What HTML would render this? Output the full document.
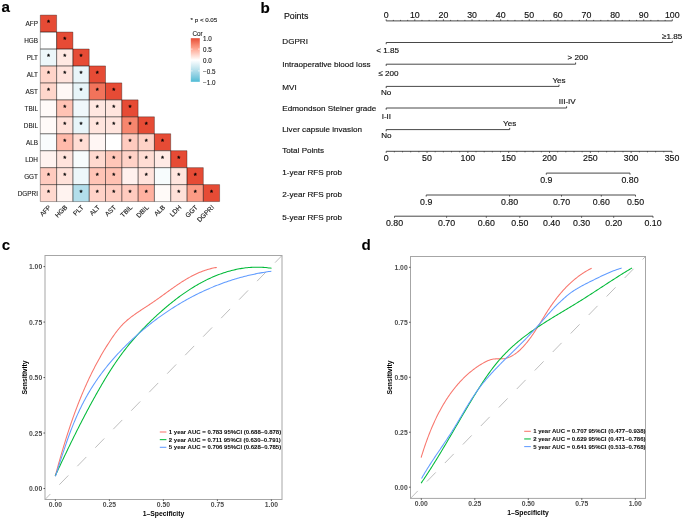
<!DOCTYPE html>
<html><head><meta charset="utf-8"><style>
html,body{margin:0;padding:0;background:#fff;}
body{width:685px;height:518px;overflow:hidden;}
svg{display:block;font-family:"Liberation Sans", sans-serif;will-change:transform;}
</style></head><body>
<svg width="685" height="518" viewBox="0 0 685 518">
<rect width="685" height="518" fill="#fff"/>
<text x="1.60" y="11.80" font-size="15.20" text-anchor="start" font-weight="bold" fill="#000" stroke="#000" stroke-width="0.12">a</text>
<rect x="40.30" y="15.10" width="16.30" height="16.95" fill="#e64b35"/>
<rect x="40.30" y="32.05" width="16.30" height="16.95" fill="#ffffff"/>
<rect x="56.60" y="32.05" width="16.30" height="16.95" fill="#e64b35"/>
<rect x="40.30" y="49.00" width="16.30" height="16.95" fill="#edf7fa"/>
<rect x="56.60" y="49.00" width="16.30" height="16.95" fill="#ffe9e3"/>
<rect x="72.90" y="49.00" width="16.30" height="16.95" fill="#e64b35"/>
<rect x="40.30" y="65.95" width="16.30" height="16.95" fill="#ffd4c9"/>
<rect x="56.60" y="65.95" width="16.30" height="16.95" fill="#ffe3dc"/>
<rect x="72.90" y="65.95" width="16.30" height="16.95" fill="#e9f5f9"/>
<rect x="89.20" y="65.95" width="16.30" height="16.95" fill="#e64b35"/>
<rect x="40.30" y="82.90" width="16.30" height="16.95" fill="#ffd6cb"/>
<rect x="56.60" y="82.90" width="16.30" height="16.95" fill="#fff8f6"/>
<rect x="72.90" y="82.90" width="16.30" height="16.95" fill="#e8f5f9"/>
<rect x="89.20" y="82.90" width="16.30" height="16.95" fill="#f2735b"/>
<rect x="105.50" y="82.90" width="16.30" height="16.95" fill="#e64b35"/>
<rect x="40.30" y="99.85" width="16.30" height="16.95" fill="#fffaf8"/>
<rect x="56.60" y="99.85" width="16.30" height="16.95" fill="#ffc3b4"/>
<rect x="72.90" y="99.85" width="16.30" height="16.95" fill="#f0f8fb"/>
<rect x="89.20" y="99.85" width="16.30" height="16.95" fill="#ffe7e1"/>
<rect x="105.50" y="99.85" width="16.30" height="16.95" fill="#ffe5de"/>
<rect x="121.80" y="99.85" width="16.30" height="16.95" fill="#e64b35"/>
<rect x="40.30" y="116.80" width="16.30" height="16.95" fill="#fffaf8"/>
<rect x="56.60" y="116.80" width="16.30" height="16.95" fill="#ffe2da"/>
<rect x="72.90" y="116.80" width="16.30" height="16.95" fill="#e8f5f9"/>
<rect x="89.20" y="116.80" width="16.30" height="16.95" fill="#ffe5de"/>
<rect x="105.50" y="116.80" width="16.30" height="16.95" fill="#ffe5de"/>
<rect x="121.80" y="116.80" width="16.30" height="16.95" fill="#f7866e"/>
<rect x="138.10" y="116.80" width="16.30" height="16.95" fill="#e64b35"/>
<rect x="40.30" y="133.75" width="16.30" height="16.95" fill="#f9fcfd"/>
<rect x="56.60" y="133.75" width="16.30" height="16.95" fill="#ffbaaa"/>
<rect x="72.90" y="133.75" width="16.30" height="16.95" fill="#ffddd4"/>
<rect x="89.20" y="133.75" width="16.30" height="16.95" fill="#fff6f4"/>
<rect x="105.50" y="133.75" width="16.30" height="16.95" fill="#ffffff"/>
<rect x="121.80" y="133.75" width="16.30" height="16.95" fill="#ffcbbf"/>
<rect x="138.10" y="133.75" width="16.30" height="16.95" fill="#ffd2c7"/>
<rect x="154.40" y="133.75" width="16.30" height="16.95" fill="#e64b35"/>
<rect x="40.30" y="150.70" width="16.30" height="16.95" fill="#fff3f0"/>
<rect x="56.60" y="150.70" width="16.30" height="16.95" fill="#ffe3dc"/>
<rect x="72.90" y="150.70" width="16.30" height="16.95" fill="#f7fcfd"/>
<rect x="89.20" y="150.70" width="16.30" height="16.95" fill="#ffd9cf"/>
<rect x="105.50" y="150.70" width="16.30" height="16.95" fill="#ffc6b8"/>
<rect x="121.80" y="150.70" width="16.30" height="16.95" fill="#ffd2c7"/>
<rect x="138.10" y="150.70" width="16.30" height="16.95" fill="#ffddd4"/>
<rect x="154.40" y="150.70" width="16.30" height="16.95" fill="#ffeae5"/>
<rect x="170.70" y="150.70" width="16.30" height="16.95" fill="#e64b35"/>
<rect x="40.30" y="167.65" width="16.30" height="16.95" fill="#ffcbbf"/>
<rect x="56.60" y="167.65" width="16.30" height="16.95" fill="#ffe2da"/>
<rect x="72.90" y="167.65" width="16.30" height="16.95" fill="#edf7fa"/>
<rect x="89.20" y="167.65" width="16.30" height="16.95" fill="#ffc4b6"/>
<rect x="105.50" y="167.65" width="16.30" height="16.95" fill="#ffc1b2"/>
<rect x="121.80" y="167.65" width="16.30" height="16.95" fill="#fff1ee"/>
<rect x="138.10" y="167.65" width="16.30" height="16.95" fill="#ffe3dc"/>
<rect x="154.40" y="167.65" width="16.30" height="16.95" fill="#f7fcfd"/>
<rect x="170.70" y="167.65" width="16.30" height="16.95" fill="#ffe5de"/>
<rect x="187.00" y="167.65" width="16.30" height="16.95" fill="#e64b35"/>
<rect x="40.30" y="184.60" width="16.30" height="16.95" fill="#ffd9cf"/>
<rect x="56.60" y="184.60" width="16.30" height="16.95" fill="#fff3f0"/>
<rect x="72.90" y="184.60" width="16.30" height="16.95" fill="#b3deeb"/>
<rect x="89.20" y="184.60" width="16.30" height="16.95" fill="#ffd2c7"/>
<rect x="105.50" y="184.60" width="16.30" height="16.95" fill="#ffcdc1"/>
<rect x="121.80" y="184.60" width="16.30" height="16.95" fill="#ffcbbf"/>
<rect x="138.10" y="184.60" width="16.30" height="16.95" fill="#ffb1a0"/>
<rect x="154.40" y="184.60" width="16.30" height="16.95" fill="#fffaf8"/>
<rect x="170.70" y="184.60" width="16.30" height="16.95" fill="#ffe0d8"/>
<rect x="187.00" y="184.60" width="16.30" height="16.95" fill="#fc9b85"/>
<rect x="203.30" y="184.60" width="16.30" height="16.95" fill="#e64b35"/>
<path d="M40.30,15.10h16.30v16.95h-16.30ZM40.30,32.05h16.30v16.95h-16.30ZM56.60,32.05h16.30v16.95h-16.30ZM40.30,49.00h16.30v16.95h-16.30ZM56.60,49.00h16.30v16.95h-16.30ZM72.90,49.00h16.30v16.95h-16.30ZM40.30,65.95h16.30v16.95h-16.30ZM56.60,65.95h16.30v16.95h-16.30ZM72.90,65.95h16.30v16.95h-16.30ZM89.20,65.95h16.30v16.95h-16.30ZM40.30,82.90h16.30v16.95h-16.30ZM56.60,82.90h16.30v16.95h-16.30ZM72.90,82.90h16.30v16.95h-16.30ZM89.20,82.90h16.30v16.95h-16.30ZM105.50,82.90h16.30v16.95h-16.30ZM40.30,99.85h16.30v16.95h-16.30ZM56.60,99.85h16.30v16.95h-16.30ZM72.90,99.85h16.30v16.95h-16.30ZM89.20,99.85h16.30v16.95h-16.30ZM105.50,99.85h16.30v16.95h-16.30ZM121.80,99.85h16.30v16.95h-16.30ZM40.30,116.80h16.30v16.95h-16.30ZM56.60,116.80h16.30v16.95h-16.30ZM72.90,116.80h16.30v16.95h-16.30ZM89.20,116.80h16.30v16.95h-16.30ZM105.50,116.80h16.30v16.95h-16.30ZM121.80,116.80h16.30v16.95h-16.30ZM138.10,116.80h16.30v16.95h-16.30ZM40.30,133.75h16.30v16.95h-16.30ZM56.60,133.75h16.30v16.95h-16.30ZM72.90,133.75h16.30v16.95h-16.30ZM89.20,133.75h16.30v16.95h-16.30ZM105.50,133.75h16.30v16.95h-16.30ZM121.80,133.75h16.30v16.95h-16.30ZM138.10,133.75h16.30v16.95h-16.30ZM154.40,133.75h16.30v16.95h-16.30ZM40.30,150.70h16.30v16.95h-16.30ZM56.60,150.70h16.30v16.95h-16.30ZM72.90,150.70h16.30v16.95h-16.30ZM89.20,150.70h16.30v16.95h-16.30ZM105.50,150.70h16.30v16.95h-16.30ZM121.80,150.70h16.30v16.95h-16.30ZM138.10,150.70h16.30v16.95h-16.30ZM154.40,150.70h16.30v16.95h-16.30ZM170.70,150.70h16.30v16.95h-16.30ZM40.30,167.65h16.30v16.95h-16.30ZM56.60,167.65h16.30v16.95h-16.30ZM72.90,167.65h16.30v16.95h-16.30ZM89.20,167.65h16.30v16.95h-16.30ZM105.50,167.65h16.30v16.95h-16.30ZM121.80,167.65h16.30v16.95h-16.30ZM138.10,167.65h16.30v16.95h-16.30ZM154.40,167.65h16.30v16.95h-16.30ZM170.70,167.65h16.30v16.95h-16.30ZM187.00,167.65h16.30v16.95h-16.30ZM40.30,184.60h16.30v16.95h-16.30ZM56.60,184.60h16.30v16.95h-16.30ZM72.90,184.60h16.30v16.95h-16.30ZM89.20,184.60h16.30v16.95h-16.30ZM105.50,184.60h16.30v16.95h-16.30ZM121.80,184.60h16.30v16.95h-16.30ZM138.10,184.60h16.30v16.95h-16.30ZM154.40,184.60h16.30v16.95h-16.30ZM170.70,184.60h16.30v16.95h-16.30ZM187.00,184.60h16.30v16.95h-16.30ZM203.30,184.60h16.30v16.95h-16.30Z" fill="none" stroke="#000" stroke-opacity="0.36" stroke-width="0.9"/>
<text x="48.45" y="25.27" font-size="7.80" text-anchor="middle" font-weight="normal" fill="#000" stroke="#000" stroke-width="0.30">*</text>
<text x="64.75" y="42.23" font-size="7.80" text-anchor="middle" font-weight="normal" fill="#000" stroke="#000" stroke-width="0.30">*</text>
<text x="48.45" y="59.18" font-size="7.80" text-anchor="middle" font-weight="normal" fill="#000" stroke="#000" stroke-width="0.30">*</text>
<text x="64.75" y="59.18" font-size="7.80" text-anchor="middle" font-weight="normal" fill="#000" stroke="#000" stroke-width="0.30">*</text>
<text x="81.05" y="59.18" font-size="7.80" text-anchor="middle" font-weight="normal" fill="#000" stroke="#000" stroke-width="0.30">*</text>
<text x="48.45" y="76.12" font-size="7.80" text-anchor="middle" font-weight="normal" fill="#000" stroke="#000" stroke-width="0.30">*</text>
<text x="64.75" y="76.12" font-size="7.80" text-anchor="middle" font-weight="normal" fill="#000" stroke="#000" stroke-width="0.30">*</text>
<text x="81.05" y="76.12" font-size="7.80" text-anchor="middle" font-weight="normal" fill="#000" stroke="#000" stroke-width="0.30">*</text>
<text x="97.35" y="76.12" font-size="7.80" text-anchor="middle" font-weight="normal" fill="#000" stroke="#000" stroke-width="0.30">*</text>
<text x="48.45" y="93.07" font-size="7.80" text-anchor="middle" font-weight="normal" fill="#000" stroke="#000" stroke-width="0.30">*</text>
<text x="81.05" y="93.07" font-size="7.80" text-anchor="middle" font-weight="normal" fill="#000" stroke="#000" stroke-width="0.30">*</text>
<text x="97.35" y="93.07" font-size="7.80" text-anchor="middle" font-weight="normal" fill="#000" stroke="#000" stroke-width="0.30">*</text>
<text x="113.65" y="93.07" font-size="7.80" text-anchor="middle" font-weight="normal" fill="#000" stroke="#000" stroke-width="0.30">*</text>
<text x="64.75" y="110.02" font-size="7.80" text-anchor="middle" font-weight="normal" fill="#000" stroke="#000" stroke-width="0.30">*</text>
<text x="97.35" y="110.02" font-size="7.80" text-anchor="middle" font-weight="normal" fill="#000" stroke="#000" stroke-width="0.30">*</text>
<text x="113.65" y="110.02" font-size="7.80" text-anchor="middle" font-weight="normal" fill="#000" stroke="#000" stroke-width="0.30">*</text>
<text x="129.95" y="110.02" font-size="7.80" text-anchor="middle" font-weight="normal" fill="#000" stroke="#000" stroke-width="0.30">*</text>
<text x="64.75" y="126.97" font-size="7.80" text-anchor="middle" font-weight="normal" fill="#000" stroke="#000" stroke-width="0.30">*</text>
<text x="81.05" y="126.97" font-size="7.80" text-anchor="middle" font-weight="normal" fill="#000" stroke="#000" stroke-width="0.30">*</text>
<text x="97.35" y="126.97" font-size="7.80" text-anchor="middle" font-weight="normal" fill="#000" stroke="#000" stroke-width="0.30">*</text>
<text x="113.65" y="126.97" font-size="7.80" text-anchor="middle" font-weight="normal" fill="#000" stroke="#000" stroke-width="0.30">*</text>
<text x="129.95" y="126.97" font-size="7.80" text-anchor="middle" font-weight="normal" fill="#000" stroke="#000" stroke-width="0.30">*</text>
<text x="146.25" y="126.97" font-size="7.80" text-anchor="middle" font-weight="normal" fill="#000" stroke="#000" stroke-width="0.30">*</text>
<text x="64.75" y="143.92" font-size="7.80" text-anchor="middle" font-weight="normal" fill="#000" stroke="#000" stroke-width="0.30">*</text>
<text x="81.05" y="143.92" font-size="7.80" text-anchor="middle" font-weight="normal" fill="#000" stroke="#000" stroke-width="0.30">*</text>
<text x="129.95" y="143.92" font-size="7.80" text-anchor="middle" font-weight="normal" fill="#000" stroke="#000" stroke-width="0.30">*</text>
<text x="146.25" y="143.92" font-size="7.80" text-anchor="middle" font-weight="normal" fill="#000" stroke="#000" stroke-width="0.30">*</text>
<text x="162.55" y="143.92" font-size="7.80" text-anchor="middle" font-weight="normal" fill="#000" stroke="#000" stroke-width="0.30">*</text>
<text x="64.75" y="160.87" font-size="7.80" text-anchor="middle" font-weight="normal" fill="#000" stroke="#000" stroke-width="0.30">*</text>
<text x="97.35" y="160.87" font-size="7.80" text-anchor="middle" font-weight="normal" fill="#000" stroke="#000" stroke-width="0.30">*</text>
<text x="113.65" y="160.87" font-size="7.80" text-anchor="middle" font-weight="normal" fill="#000" stroke="#000" stroke-width="0.30">*</text>
<text x="129.95" y="160.87" font-size="7.80" text-anchor="middle" font-weight="normal" fill="#000" stroke="#000" stroke-width="0.30">*</text>
<text x="146.25" y="160.87" font-size="7.80" text-anchor="middle" font-weight="normal" fill="#000" stroke="#000" stroke-width="0.30">*</text>
<text x="162.55" y="160.87" font-size="7.80" text-anchor="middle" font-weight="normal" fill="#000" stroke="#000" stroke-width="0.30">*</text>
<text x="178.85" y="160.87" font-size="7.80" text-anchor="middle" font-weight="normal" fill="#000" stroke="#000" stroke-width="0.30">*</text>
<text x="48.45" y="177.82" font-size="7.80" text-anchor="middle" font-weight="normal" fill="#000" stroke="#000" stroke-width="0.30">*</text>
<text x="64.75" y="177.82" font-size="7.80" text-anchor="middle" font-weight="normal" fill="#000" stroke="#000" stroke-width="0.30">*</text>
<text x="97.35" y="177.82" font-size="7.80" text-anchor="middle" font-weight="normal" fill="#000" stroke="#000" stroke-width="0.30">*</text>
<text x="113.65" y="177.82" font-size="7.80" text-anchor="middle" font-weight="normal" fill="#000" stroke="#000" stroke-width="0.30">*</text>
<text x="146.25" y="177.82" font-size="7.80" text-anchor="middle" font-weight="normal" fill="#000" stroke="#000" stroke-width="0.30">*</text>
<text x="178.85" y="177.82" font-size="7.80" text-anchor="middle" font-weight="normal" fill="#000" stroke="#000" stroke-width="0.30">*</text>
<text x="195.15" y="177.82" font-size="7.80" text-anchor="middle" font-weight="normal" fill="#000" stroke="#000" stroke-width="0.30">*</text>
<text x="48.45" y="194.77" font-size="7.80" text-anchor="middle" font-weight="normal" fill="#000" stroke="#000" stroke-width="0.30">*</text>
<text x="81.05" y="194.77" font-size="7.80" text-anchor="middle" font-weight="normal" fill="#000" stroke="#000" stroke-width="0.30">*</text>
<text x="97.35" y="194.77" font-size="7.80" text-anchor="middle" font-weight="normal" fill="#000" stroke="#000" stroke-width="0.30">*</text>
<text x="113.65" y="194.77" font-size="7.80" text-anchor="middle" font-weight="normal" fill="#000" stroke="#000" stroke-width="0.30">*</text>
<text x="129.95" y="194.77" font-size="7.80" text-anchor="middle" font-weight="normal" fill="#000" stroke="#000" stroke-width="0.30">*</text>
<text x="146.25" y="194.77" font-size="7.80" text-anchor="middle" font-weight="normal" fill="#000" stroke="#000" stroke-width="0.30">*</text>
<text x="178.85" y="194.77" font-size="7.80" text-anchor="middle" font-weight="normal" fill="#000" stroke="#000" stroke-width="0.30">*</text>
<text x="195.15" y="194.77" font-size="7.80" text-anchor="middle" font-weight="normal" fill="#000" stroke="#000" stroke-width="0.30">*</text>
<text x="211.45" y="194.77" font-size="7.80" text-anchor="middle" font-weight="normal" fill="#000" stroke="#000" stroke-width="0.30">*</text>
<text x="38.00" y="26.27" font-size="6.40" text-anchor="end" font-weight="normal" fill="#222" stroke="#222" stroke-width="0.12">AFP</text>
<text x="38.00" y="43.23" font-size="6.40" text-anchor="end" font-weight="normal" fill="#222" stroke="#222" stroke-width="0.12">HGB</text>
<text x="38.00" y="60.18" font-size="6.40" text-anchor="end" font-weight="normal" fill="#222" stroke="#222" stroke-width="0.12">PLT</text>
<text x="38.00" y="77.12" font-size="6.40" text-anchor="end" font-weight="normal" fill="#222" stroke="#222" stroke-width="0.12">ALT</text>
<text x="38.00" y="94.07" font-size="6.40" text-anchor="end" font-weight="normal" fill="#222" stroke="#222" stroke-width="0.12">AST</text>
<text x="38.00" y="111.02" font-size="6.40" text-anchor="end" font-weight="normal" fill="#222" stroke="#222" stroke-width="0.12">TBIL</text>
<text x="38.00" y="127.97" font-size="6.40" text-anchor="end" font-weight="normal" fill="#222" stroke="#222" stroke-width="0.12">DBIL</text>
<text x="38.00" y="144.92" font-size="6.40" text-anchor="end" font-weight="normal" fill="#222" stroke="#222" stroke-width="0.12">ALB</text>
<text x="38.00" y="161.87" font-size="6.40" text-anchor="end" font-weight="normal" fill="#222" stroke="#222" stroke-width="0.12">LDH</text>
<text x="38.00" y="178.82" font-size="6.40" text-anchor="end" font-weight="normal" fill="#222" stroke="#222" stroke-width="0.12">GGT</text>
<text x="38.00" y="195.77" font-size="6.40" text-anchor="end" font-weight="normal" fill="#222" stroke="#222" stroke-width="0.12">DGPRI</text>
<text transform="translate(51.45,207.80) rotate(-45)" font-size="6.6" text-anchor="end" fill="#222" stroke="#222" stroke-width="0.12">AFP</text>
<text transform="translate(67.75,207.80) rotate(-45)" font-size="6.6" text-anchor="end" fill="#222" stroke="#222" stroke-width="0.12">HGB</text>
<text transform="translate(84.05,207.80) rotate(-45)" font-size="6.6" text-anchor="end" fill="#222" stroke="#222" stroke-width="0.12">PLT</text>
<text transform="translate(100.35,207.80) rotate(-45)" font-size="6.6" text-anchor="end" fill="#222" stroke="#222" stroke-width="0.12">ALT</text>
<text transform="translate(116.65,207.80) rotate(-45)" font-size="6.6" text-anchor="end" fill="#222" stroke="#222" stroke-width="0.12">AST</text>
<text transform="translate(132.95,207.80) rotate(-45)" font-size="6.6" text-anchor="end" fill="#222" stroke="#222" stroke-width="0.12">TBIL</text>
<text transform="translate(149.25,207.80) rotate(-45)" font-size="6.6" text-anchor="end" fill="#222" stroke="#222" stroke-width="0.12">DBIL</text>
<text transform="translate(165.55,207.80) rotate(-45)" font-size="6.6" text-anchor="end" fill="#222" stroke="#222" stroke-width="0.12">ALB</text>
<text transform="translate(181.85,207.80) rotate(-45)" font-size="6.6" text-anchor="end" fill="#222" stroke="#222" stroke-width="0.12">LDH</text>
<text transform="translate(198.15,207.80) rotate(-45)" font-size="6.6" text-anchor="end" fill="#222" stroke="#222" stroke-width="0.12">GGT</text>
<text transform="translate(214.45,207.80) rotate(-45)" font-size="6.6" text-anchor="end" fill="#222" stroke="#222" stroke-width="0.12">DGPRI</text>
<text x="190.60" y="22.20" font-size="6.20" text-anchor="start" font-weight="normal" fill="#222" stroke="#222" stroke-width="0.12">* p &lt; 0.05</text>
<text x="192.40" y="35.80" font-size="6.30" text-anchor="start" font-weight="normal" fill="#222" stroke="#222" stroke-width="0.12">Cor</text>
<defs><linearGradient id="cb" x1="0" y1="0" x2="0" y2="1">
<stop offset="0.000" stop-color="#e64b35"/>
<stop offset="0.050" stop-color="#ec6048"/>
<stop offset="0.100" stop-color="#f2735b"/>
<stop offset="0.150" stop-color="#f7866e"/>
<stop offset="0.200" stop-color="#fb9781"/>
<stop offset="0.250" stop-color="#ffa995"/>
<stop offset="0.300" stop-color="#ffbaaa"/>
<stop offset="0.350" stop-color="#ffcbbf"/>
<stop offset="0.400" stop-color="#ffddd4"/>
<stop offset="0.450" stop-color="#ffeee9"/>
<stop offset="0.500" stop-color="#ffffff"/>
<stop offset="0.550" stop-color="#f0f8fb"/>
<stop offset="0.600" stop-color="#e0f1f7"/>
<stop offset="0.650" stop-color="#d0ebf2"/>
<stop offset="0.700" stop-color="#c0e4ee"/>
<stop offset="0.750" stop-color="#b0ddea"/>
<stop offset="0.800" stop-color="#9fd6e6"/>
<stop offset="0.850" stop-color="#8dcfe2"/>
<stop offset="0.900" stop-color="#7ac9dd"/>
<stop offset="0.950" stop-color="#65c2d9"/>
<stop offset="1.000" stop-color="#4dbbd5"/>
</linearGradient></defs>
<rect x="190.80" y="38.20" width="9.00" height="43.60" fill="url(#cb)"/>
<text x="203.00" y="41.20" font-size="6.30" text-anchor="start" font-weight="normal" fill="#222" stroke="#222" stroke-width="0.12">1.0</text>
<line x1="190.80" y1="49.10" x2="192.60" y2="49.10" stroke="#fff" stroke-width="0.6"/>
<line x1="198.00" y1="49.10" x2="199.80" y2="49.10" stroke="#fff" stroke-width="0.6"/>
<text x="203.00" y="52.10" font-size="6.30" text-anchor="start" font-weight="normal" fill="#222" stroke="#222" stroke-width="0.12">0.5</text>
<line x1="190.80" y1="60.00" x2="192.60" y2="60.00" stroke="#fff" stroke-width="0.6"/>
<line x1="198.00" y1="60.00" x2="199.80" y2="60.00" stroke="#fff" stroke-width="0.6"/>
<text x="203.00" y="63.00" font-size="6.30" text-anchor="start" font-weight="normal" fill="#222" stroke="#222" stroke-width="0.12">0.0</text>
<line x1="190.80" y1="70.90" x2="192.60" y2="70.90" stroke="#fff" stroke-width="0.6"/>
<line x1="198.00" y1="70.90" x2="199.80" y2="70.90" stroke="#fff" stroke-width="0.6"/>
<text x="203.00" y="73.90" font-size="6.30" text-anchor="start" font-weight="normal" fill="#222" stroke="#222" stroke-width="0.12">−0.5</text>
<text x="203.00" y="84.80" font-size="6.30" text-anchor="start" font-weight="normal" fill="#222" stroke="#222" stroke-width="0.12">−1.0</text>
<text x="260.40" y="12.70" font-size="15.20" text-anchor="start" font-weight="bold" fill="#000" stroke="#000" stroke-width="0.15">b</text>
<text x="283.90" y="18.80" font-size="8.80" text-anchor="start" font-weight="normal" fill="#111" stroke="#111" stroke-width="0.15">Points</text>
<line x1="386.20" y1="20.90" x2="672.30" y2="20.90" stroke="#333" stroke-width="0.9"/>
<line x1="386.20" y1="20.90" x2="386.20" y2="19.30" stroke="#333" stroke-width="0.8"/>
<text x="386.20" y="18.00" font-size="8.80" text-anchor="middle" font-weight="normal" fill="#111" stroke="#111" stroke-width="0.15">0</text>
<line x1="393.35" y1="20.90" x2="393.35" y2="19.90" stroke="#333" stroke-width="0.8"/>
<line x1="400.50" y1="20.90" x2="400.50" y2="19.90" stroke="#333" stroke-width="0.8"/>
<line x1="407.66" y1="20.90" x2="407.66" y2="19.90" stroke="#333" stroke-width="0.8"/>
<line x1="414.81" y1="20.90" x2="414.81" y2="19.30" stroke="#333" stroke-width="0.8"/>
<text x="414.81" y="18.00" font-size="8.80" text-anchor="middle" font-weight="normal" fill="#111" stroke="#111" stroke-width="0.15">10</text>
<line x1="421.96" y1="20.90" x2="421.96" y2="19.90" stroke="#333" stroke-width="0.8"/>
<line x1="429.12" y1="20.90" x2="429.12" y2="19.90" stroke="#333" stroke-width="0.8"/>
<line x1="436.27" y1="20.90" x2="436.27" y2="19.90" stroke="#333" stroke-width="0.8"/>
<line x1="443.42" y1="20.90" x2="443.42" y2="19.30" stroke="#333" stroke-width="0.8"/>
<text x="443.42" y="18.00" font-size="8.80" text-anchor="middle" font-weight="normal" fill="#111" stroke="#111" stroke-width="0.15">20</text>
<line x1="450.57" y1="20.90" x2="450.57" y2="19.90" stroke="#333" stroke-width="0.8"/>
<line x1="457.73" y1="20.90" x2="457.73" y2="19.90" stroke="#333" stroke-width="0.8"/>
<line x1="464.88" y1="20.90" x2="464.88" y2="19.90" stroke="#333" stroke-width="0.8"/>
<line x1="472.03" y1="20.90" x2="472.03" y2="19.30" stroke="#333" stroke-width="0.8"/>
<text x="472.03" y="18.00" font-size="8.80" text-anchor="middle" font-weight="normal" fill="#111" stroke="#111" stroke-width="0.15">30</text>
<line x1="479.18" y1="20.90" x2="479.18" y2="19.90" stroke="#333" stroke-width="0.8"/>
<line x1="486.33" y1="20.90" x2="486.33" y2="19.90" stroke="#333" stroke-width="0.8"/>
<line x1="493.49" y1="20.90" x2="493.49" y2="19.90" stroke="#333" stroke-width="0.8"/>
<line x1="500.64" y1="20.90" x2="500.64" y2="19.30" stroke="#333" stroke-width="0.8"/>
<text x="500.64" y="18.00" font-size="8.80" text-anchor="middle" font-weight="normal" fill="#111" stroke="#111" stroke-width="0.15">40</text>
<line x1="507.79" y1="20.90" x2="507.79" y2="19.90" stroke="#333" stroke-width="0.8"/>
<line x1="514.94" y1="20.90" x2="514.94" y2="19.90" stroke="#333" stroke-width="0.8"/>
<line x1="522.10" y1="20.90" x2="522.10" y2="19.90" stroke="#333" stroke-width="0.8"/>
<line x1="529.25" y1="20.90" x2="529.25" y2="19.30" stroke="#333" stroke-width="0.8"/>
<text x="529.25" y="18.00" font-size="8.80" text-anchor="middle" font-weight="normal" fill="#111" stroke="#111" stroke-width="0.15">50</text>
<line x1="536.40" y1="20.90" x2="536.40" y2="19.90" stroke="#333" stroke-width="0.8"/>
<line x1="543.56" y1="20.90" x2="543.56" y2="19.90" stroke="#333" stroke-width="0.8"/>
<line x1="550.71" y1="20.90" x2="550.71" y2="19.90" stroke="#333" stroke-width="0.8"/>
<line x1="557.86" y1="20.90" x2="557.86" y2="19.30" stroke="#333" stroke-width="0.8"/>
<text x="557.86" y="18.00" font-size="8.80" text-anchor="middle" font-weight="normal" fill="#111" stroke="#111" stroke-width="0.15">60</text>
<line x1="565.01" y1="20.90" x2="565.01" y2="19.90" stroke="#333" stroke-width="0.8"/>
<line x1="572.16" y1="20.90" x2="572.16" y2="19.90" stroke="#333" stroke-width="0.8"/>
<line x1="579.32" y1="20.90" x2="579.32" y2="19.90" stroke="#333" stroke-width="0.8"/>
<line x1="586.47" y1="20.90" x2="586.47" y2="19.30" stroke="#333" stroke-width="0.8"/>
<text x="586.47" y="18.00" font-size="8.80" text-anchor="middle" font-weight="normal" fill="#111" stroke="#111" stroke-width="0.15">70</text>
<line x1="593.62" y1="20.90" x2="593.62" y2="19.90" stroke="#333" stroke-width="0.8"/>
<line x1="600.77" y1="20.90" x2="600.77" y2="19.90" stroke="#333" stroke-width="0.8"/>
<line x1="607.93" y1="20.90" x2="607.93" y2="19.90" stroke="#333" stroke-width="0.8"/>
<line x1="615.08" y1="20.90" x2="615.08" y2="19.30" stroke="#333" stroke-width="0.8"/>
<text x="615.08" y="18.00" font-size="8.80" text-anchor="middle" font-weight="normal" fill="#111" stroke="#111" stroke-width="0.15">80</text>
<line x1="622.23" y1="20.90" x2="622.23" y2="19.90" stroke="#333" stroke-width="0.8"/>
<line x1="629.38" y1="20.90" x2="629.38" y2="19.90" stroke="#333" stroke-width="0.8"/>
<line x1="636.54" y1="20.90" x2="636.54" y2="19.90" stroke="#333" stroke-width="0.8"/>
<line x1="643.69" y1="20.90" x2="643.69" y2="19.30" stroke="#333" stroke-width="0.8"/>
<text x="643.69" y="18.00" font-size="8.80" text-anchor="middle" font-weight="normal" fill="#111" stroke="#111" stroke-width="0.15">90</text>
<line x1="650.84" y1="20.90" x2="650.84" y2="19.90" stroke="#333" stroke-width="0.8"/>
<line x1="658.00" y1="20.90" x2="658.00" y2="19.90" stroke="#333" stroke-width="0.8"/>
<line x1="665.15" y1="20.90" x2="665.15" y2="19.90" stroke="#333" stroke-width="0.8"/>
<line x1="672.30" y1="20.90" x2="672.30" y2="19.30" stroke="#333" stroke-width="0.8"/>
<text x="672.30" y="18.00" font-size="8.80" text-anchor="middle" font-weight="normal" fill="#111" stroke="#111" stroke-width="0.15">100</text>
<text x="282.30" y="43.70" font-size="8.10" text-anchor="start" font-weight="normal" fill="#111" stroke="#111" stroke-width="0.15">DGPRI</text>
<path d="M386.20,44.20 L386.20,42.50 L672.30,42.50 L672.30,40.80" fill="none" stroke="#333" stroke-width="0.9"/>
<text x="387.70" y="53.40" font-size="8.10" text-anchor="middle" font-weight="normal" fill="#111" stroke="#111" stroke-width="0.15">&lt; 1.85</text>
<text x="672.10" y="38.60" font-size="8.10" text-anchor="middle" font-weight="normal" fill="#111" stroke="#111" stroke-width="0.15">≥1.85</text>
<text x="282.30" y="67.00" font-size="8.10" text-anchor="start" font-weight="normal" fill="#111" stroke="#111" stroke-width="0.15">Intraoperative blood loss</text>
<path d="M386.20,65.90 L386.20,64.20 L575.60,64.20 L575.60,62.50" fill="none" stroke="#333" stroke-width="0.9"/>
<text x="388.50" y="75.80" font-size="8.10" text-anchor="middle" font-weight="normal" fill="#111" stroke="#111" stroke-width="0.15">≤ 200</text>
<text x="577.70" y="60.00" font-size="8.10" text-anchor="middle" font-weight="normal" fill="#111" stroke="#111" stroke-width="0.15">&gt; 200</text>
<text x="282.30" y="89.60" font-size="8.10" text-anchor="start" font-weight="normal" fill="#111" stroke="#111" stroke-width="0.15">MVI</text>
<path d="M386.20,88.10 L386.20,86.40 L559.00,86.40 L559.00,84.70" fill="none" stroke="#333" stroke-width="0.9"/>
<text x="386.20" y="95.40" font-size="8.10" text-anchor="middle" font-weight="normal" fill="#111" stroke="#111" stroke-width="0.15">No</text>
<text x="559.00" y="82.60" font-size="8.10" text-anchor="middle" font-weight="normal" fill="#111" stroke="#111" stroke-width="0.15">Yes</text>
<text x="282.30" y="111.00" font-size="8.10" text-anchor="start" font-weight="normal" fill="#111" stroke="#111" stroke-width="0.15">Edmondson Steiner grade</text>
<path d="M386.20,109.70 L386.20,108.00 L566.60,108.00 L566.60,106.30" fill="none" stroke="#333" stroke-width="0.9"/>
<text x="386.40" y="118.70" font-size="8.10" text-anchor="middle" font-weight="normal" fill="#111" stroke="#111" stroke-width="0.15">I-II</text>
<text x="567.20" y="104.40" font-size="8.10" text-anchor="middle" font-weight="normal" fill="#111" stroke="#111" stroke-width="0.15">III-IV</text>
<text x="282.30" y="132.20" font-size="8.10" text-anchor="start" font-weight="normal" fill="#111" stroke="#111" stroke-width="0.15">Liver capsule invasion</text>
<path d="M386.20,131.30 L386.20,129.60 L509.70,129.60 L509.70,127.90" fill="none" stroke="#333" stroke-width="0.9"/>
<text x="386.40" y="138.30" font-size="8.10" text-anchor="middle" font-weight="normal" fill="#111" stroke="#111" stroke-width="0.15">No</text>
<text x="509.70" y="126.20" font-size="8.10" text-anchor="middle" font-weight="normal" fill="#111" stroke="#111" stroke-width="0.15">Yes</text>
<text x="282.30" y="152.90" font-size="8.10" text-anchor="start" font-weight="normal" fill="#111" stroke="#111" stroke-width="0.15">Total Points</text>
<line x1="386.20" y1="151.30" x2="671.97" y2="151.30" stroke="#333" stroke-width="0.9"/>
<line x1="386.20" y1="151.30" x2="386.20" y2="152.90" stroke="#333" stroke-width="0.8"/>
<text x="386.20" y="161.30" font-size="8.80" text-anchor="middle" font-weight="normal" fill="#111" stroke="#111" stroke-width="0.15">0</text>
<line x1="394.37" y1="151.30" x2="394.37" y2="152.30" stroke="#333" stroke-width="0.8"/>
<line x1="402.53" y1="151.30" x2="402.53" y2="152.30" stroke="#333" stroke-width="0.8"/>
<line x1="410.69" y1="151.30" x2="410.69" y2="152.30" stroke="#333" stroke-width="0.8"/>
<line x1="418.86" y1="151.30" x2="418.86" y2="152.30" stroke="#333" stroke-width="0.8"/>
<line x1="427.02" y1="151.30" x2="427.02" y2="152.90" stroke="#333" stroke-width="0.8"/>
<text x="427.02" y="161.30" font-size="8.80" text-anchor="middle" font-weight="normal" fill="#111" stroke="#111" stroke-width="0.15">50</text>
<line x1="435.19" y1="151.30" x2="435.19" y2="152.30" stroke="#333" stroke-width="0.8"/>
<line x1="443.36" y1="151.30" x2="443.36" y2="152.30" stroke="#333" stroke-width="0.8"/>
<line x1="451.52" y1="151.30" x2="451.52" y2="152.30" stroke="#333" stroke-width="0.8"/>
<line x1="459.69" y1="151.30" x2="459.69" y2="152.30" stroke="#333" stroke-width="0.8"/>
<line x1="467.85" y1="151.30" x2="467.85" y2="152.90" stroke="#333" stroke-width="0.8"/>
<text x="467.85" y="161.30" font-size="8.80" text-anchor="middle" font-weight="normal" fill="#111" stroke="#111" stroke-width="0.15">100</text>
<line x1="476.01" y1="151.30" x2="476.01" y2="152.30" stroke="#333" stroke-width="0.8"/>
<line x1="484.18" y1="151.30" x2="484.18" y2="152.30" stroke="#333" stroke-width="0.8"/>
<line x1="492.34" y1="151.30" x2="492.34" y2="152.30" stroke="#333" stroke-width="0.8"/>
<line x1="500.51" y1="151.30" x2="500.51" y2="152.30" stroke="#333" stroke-width="0.8"/>
<line x1="508.67" y1="151.30" x2="508.67" y2="152.90" stroke="#333" stroke-width="0.8"/>
<text x="508.67" y="161.30" font-size="8.80" text-anchor="middle" font-weight="normal" fill="#111" stroke="#111" stroke-width="0.15">150</text>
<line x1="516.84" y1="151.30" x2="516.84" y2="152.30" stroke="#333" stroke-width="0.8"/>
<line x1="525.00" y1="151.30" x2="525.00" y2="152.30" stroke="#333" stroke-width="0.8"/>
<line x1="533.17" y1="151.30" x2="533.17" y2="152.30" stroke="#333" stroke-width="0.8"/>
<line x1="541.34" y1="151.30" x2="541.34" y2="152.30" stroke="#333" stroke-width="0.8"/>
<line x1="549.50" y1="151.30" x2="549.50" y2="152.90" stroke="#333" stroke-width="0.8"/>
<text x="549.50" y="161.30" font-size="8.80" text-anchor="middle" font-weight="normal" fill="#111" stroke="#111" stroke-width="0.15">200</text>
<line x1="557.66" y1="151.30" x2="557.66" y2="152.30" stroke="#333" stroke-width="0.8"/>
<line x1="565.83" y1="151.30" x2="565.83" y2="152.30" stroke="#333" stroke-width="0.8"/>
<line x1="574.00" y1="151.30" x2="574.00" y2="152.30" stroke="#333" stroke-width="0.8"/>
<line x1="582.16" y1="151.30" x2="582.16" y2="152.30" stroke="#333" stroke-width="0.8"/>
<line x1="590.33" y1="151.30" x2="590.33" y2="152.90" stroke="#333" stroke-width="0.8"/>
<text x="590.33" y="161.30" font-size="8.80" text-anchor="middle" font-weight="normal" fill="#111" stroke="#111" stroke-width="0.15">250</text>
<line x1="598.49" y1="151.30" x2="598.49" y2="152.30" stroke="#333" stroke-width="0.8"/>
<line x1="606.65" y1="151.30" x2="606.65" y2="152.30" stroke="#333" stroke-width="0.8"/>
<line x1="614.82" y1="151.30" x2="614.82" y2="152.30" stroke="#333" stroke-width="0.8"/>
<line x1="622.99" y1="151.30" x2="622.99" y2="152.30" stroke="#333" stroke-width="0.8"/>
<line x1="631.15" y1="151.30" x2="631.15" y2="152.90" stroke="#333" stroke-width="0.8"/>
<text x="631.15" y="161.30" font-size="8.80" text-anchor="middle" font-weight="normal" fill="#111" stroke="#111" stroke-width="0.15">300</text>
<line x1="639.32" y1="151.30" x2="639.32" y2="152.30" stroke="#333" stroke-width="0.8"/>
<line x1="647.48" y1="151.30" x2="647.48" y2="152.30" stroke="#333" stroke-width="0.8"/>
<line x1="655.64" y1="151.30" x2="655.64" y2="152.30" stroke="#333" stroke-width="0.8"/>
<line x1="663.81" y1="151.30" x2="663.81" y2="152.30" stroke="#333" stroke-width="0.8"/>
<line x1="671.97" y1="151.30" x2="671.97" y2="152.90" stroke="#333" stroke-width="0.8"/>
<text x="671.97" y="161.30" font-size="8.80" text-anchor="middle" font-weight="normal" fill="#111" stroke="#111" stroke-width="0.15">350</text>
<text x="282.30" y="174.80" font-size="8.10" text-anchor="start" font-weight="normal" fill="#111" stroke="#111" stroke-width="0.15">1-year RFS prob</text>
<line x1="546.30" y1="173.10" x2="630.00" y2="173.10" stroke="#333" stroke-width="0.9"/>
<line x1="546.30" y1="173.10" x2="546.30" y2="174.70" stroke="#333" stroke-width="0.8"/>
<text x="546.30" y="182.60" font-size="8.80" text-anchor="middle" font-weight="normal" fill="#111" stroke="#111" stroke-width="0.15">0.9</text>
<line x1="630.00" y1="173.10" x2="630.00" y2="174.70" stroke="#333" stroke-width="0.8"/>
<text x="630.00" y="182.60" font-size="8.80" text-anchor="middle" font-weight="normal" fill="#111" stroke="#111" stroke-width="0.15">0.80</text>
<text x="282.30" y="197.30" font-size="8.10" text-anchor="start" font-weight="normal" fill="#111" stroke="#111" stroke-width="0.15">2-year RFS prob</text>
<line x1="426.20" y1="195.00" x2="635.50" y2="195.00" stroke="#333" stroke-width="0.9"/>
<line x1="426.20" y1="195.00" x2="426.20" y2="196.60" stroke="#333" stroke-width="0.8"/>
<text x="426.20" y="204.50" font-size="8.80" text-anchor="middle" font-weight="normal" fill="#111" stroke="#111" stroke-width="0.15">0.9</text>
<line x1="509.60" y1="195.00" x2="509.60" y2="196.60" stroke="#333" stroke-width="0.8"/>
<text x="509.60" y="204.50" font-size="8.80" text-anchor="middle" font-weight="normal" fill="#111" stroke="#111" stroke-width="0.15">0.80</text>
<line x1="561.50" y1="195.00" x2="561.50" y2="196.60" stroke="#333" stroke-width="0.8"/>
<text x="561.50" y="204.50" font-size="8.80" text-anchor="middle" font-weight="normal" fill="#111" stroke="#111" stroke-width="0.15">0.70</text>
<line x1="601.30" y1="195.00" x2="601.30" y2="196.60" stroke="#333" stroke-width="0.8"/>
<text x="601.30" y="204.50" font-size="8.80" text-anchor="middle" font-weight="normal" fill="#111" stroke="#111" stroke-width="0.15">0.60</text>
<line x1="635.50" y1="195.00" x2="635.50" y2="196.60" stroke="#333" stroke-width="0.8"/>
<text x="635.50" y="204.50" font-size="8.80" text-anchor="middle" font-weight="normal" fill="#111" stroke="#111" stroke-width="0.15">0.50</text>
<text x="282.30" y="219.50" font-size="8.10" text-anchor="start" font-weight="normal" fill="#111" stroke="#111" stroke-width="0.15">5-year RFS prob</text>
<line x1="394.50" y1="216.20" x2="653.00" y2="216.20" stroke="#333" stroke-width="0.9"/>
<line x1="394.50" y1="216.20" x2="394.50" y2="217.80" stroke="#333" stroke-width="0.8"/>
<text x="394.50" y="225.70" font-size="8.80" text-anchor="middle" font-weight="normal" fill="#111" stroke="#111" stroke-width="0.15">0.80</text>
<line x1="446.60" y1="216.20" x2="446.60" y2="217.80" stroke="#333" stroke-width="0.8"/>
<text x="446.60" y="225.70" font-size="8.80" text-anchor="middle" font-weight="normal" fill="#111" stroke="#111" stroke-width="0.15">0.70</text>
<line x1="486.30" y1="216.20" x2="486.30" y2="217.80" stroke="#333" stroke-width="0.8"/>
<text x="486.30" y="225.70" font-size="8.80" text-anchor="middle" font-weight="normal" fill="#111" stroke="#111" stroke-width="0.15">0.60</text>
<line x1="519.80" y1="216.20" x2="519.80" y2="217.80" stroke="#333" stroke-width="0.8"/>
<text x="519.80" y="225.70" font-size="8.80" text-anchor="middle" font-weight="normal" fill="#111" stroke="#111" stroke-width="0.15">0.50</text>
<line x1="551.60" y1="216.20" x2="551.60" y2="217.80" stroke="#333" stroke-width="0.8"/>
<text x="551.60" y="225.70" font-size="8.80" text-anchor="middle" font-weight="normal" fill="#111" stroke="#111" stroke-width="0.15">0.40</text>
<line x1="581.60" y1="216.20" x2="581.60" y2="217.80" stroke="#333" stroke-width="0.8"/>
<text x="581.60" y="225.70" font-size="8.80" text-anchor="middle" font-weight="normal" fill="#111" stroke="#111" stroke-width="0.15">0.30</text>
<line x1="613.70" y1="216.20" x2="613.70" y2="217.80" stroke="#333" stroke-width="0.8"/>
<text x="613.70" y="225.70" font-size="8.80" text-anchor="middle" font-weight="normal" fill="#111" stroke="#111" stroke-width="0.15">0.20</text>
<line x1="653.00" y1="216.20" x2="653.00" y2="217.80" stroke="#333" stroke-width="0.8"/>
<text x="653.00" y="225.70" font-size="8.80" text-anchor="middle" font-weight="normal" fill="#111" stroke="#111" stroke-width="0.15">0.10</text>
<text x="1.80" y="249.80" font-size="15.20" text-anchor="start" font-weight="bold" fill="#000">c</text>
<defs><clipPath id="clip_c"><rect x="45.00" y="255.50" width="237.00" height="244.00"/></clipPath></defs>
<g clip-path="url(#clip_c)"><line x1="45.00" y1="499.50" x2="282.00" y2="255.50" stroke="#bebebe" stroke-width="1.0" stroke-dasharray="12.9 12.9" stroke-dashoffset="5.20"/></g>
<path d="M55.24,476.15 L55.53,475.04 L55.83,473.92 L56.13,472.80 L56.44,471.69 L56.74,470.57 L57.04,469.46 L57.35,468.34 L57.66,467.22 L57.97,466.11 L58.27,464.99 L58.59,463.87 L58.90,462.76 L59.21,461.64 L59.53,460.52 L59.84,459.40 L60.16,458.29 L60.48,457.17 L60.80,456.05 L61.12,454.94 L61.45,453.82 L61.77,452.70 L62.10,451.59 L62.43,450.47 L62.76,449.35 L63.10,448.24 L63.43,447.12 L63.77,446.01 L64.10,444.89 L64.44,443.78 L64.79,442.66 L65.13,441.55 L65.47,440.43 L65.82,439.32 L66.17,438.21 L66.52,437.09 L66.88,435.98 L67.23,434.87 L67.59,433.76 L67.95,432.65 L68.31,431.54 L68.67,430.43 L69.04,429.32 L69.41,428.21 L69.78,427.11 L70.15,426.00 L70.52,424.89 L70.90,423.79 L71.28,422.69 L71.66,421.58 L72.05,420.48 L72.43,419.38 L72.82,418.28 L73.21,417.18 L73.61,416.08 L74.00,414.98 L74.40,413.88 L74.80,412.78 L75.21,411.69 L75.61,410.59 L76.02,409.50 L76.44,408.41 L76.85,407.31 L77.27,406.22 L77.69,405.13 L78.11,404.05 L78.54,402.96 L78.96,401.87 L79.40,400.79 L79.83,399.71 L80.27,398.62 L80.71,397.54 L81.15,396.46 L81.60,395.38 L82.04,394.31 L82.50,393.23 L82.95,392.16 L83.41,391.09 L83.87,390.01 L84.33,388.94 L84.80,387.88 L85.27,386.81 L85.75,385.74 L86.22,384.68 L86.70,383.62 L87.19,382.56 L87.67,381.50 L88.16,380.44 L88.66,379.38 L89.15,378.33 L89.65,377.28 L90.16,376.23 L90.67,375.18 L91.18,374.13 L91.69,373.09 L92.21,372.04 L92.73,371.00 L93.25,369.96 L93.78,368.92 L94.32,367.89 L94.85,366.85 L95.39,365.82 L95.93,364.79 L96.48,363.76 L97.03,362.74 L97.59,361.71 L98.15,360.69 L98.71,359.67 L99.27,358.65 L99.84,357.64 L100.42,356.62 L101.00,355.61 L101.58,354.60 L102.16,353.60 L102.75,352.59 L103.35,351.59 L103.95,350.59 L104.55,349.59 L105.16,348.60 L105.77,347.60 L106.38,346.61 L107.00,345.63 L107.62,344.64 L108.25,343.66 L108.88,342.68 L109.52,341.70 L110.16,340.72 L110.80,339.75 L111.45,338.78 L112.11,337.81 L112.77,336.85 L113.43,335.89 L114.11,334.94 L114.79,333.99 L115.48,333.05 L116.17,332.12 L116.88,331.20 L117.59,330.28 L118.32,329.38 L119.05,328.48 L119.80,327.60 L120.56,326.73 L121.33,325.87 L122.11,325.03 L122.91,324.19 L123.72,323.38 L124.54,322.58 L125.38,321.79 L126.24,321.02 L127.10,320.27 L127.99,319.52 L128.88,318.80 L129.78,318.08 L130.69,317.37 L131.61,316.68 L132.54,315.99 L133.48,315.31 L134.42,314.63 L135.37,313.97 L136.32,313.30 L137.27,312.65 L138.23,311.99 L139.20,311.34 L140.16,310.70 L141.13,310.05 L142.10,309.41 L143.07,308.77 L144.05,308.13 L145.02,307.50 L146.00,306.86 L146.97,306.22 L147.95,305.58 L148.92,304.94 L149.90,304.29 L150.87,303.65 L151.84,303.00 L152.81,302.34 L153.78,301.68 L154.74,301.02 L155.70,300.35 L156.66,299.68 L157.61,299.01 L158.57,298.33 L159.52,297.65 L160.47,296.97 L161.42,296.29 L162.36,295.60 L163.31,294.91 L164.26,294.23 L165.20,293.54 L166.15,292.85 L167.09,292.16 L168.04,291.48 L168.99,290.79 L169.93,290.11 L170.88,289.43 L171.83,288.75 L172.78,288.07 L173.73,287.40 L174.68,286.73 L175.64,286.07 L176.60,285.41 L177.56,284.75 L178.52,284.10 L179.48,283.45 L180.45,282.82 L181.42,282.18 L182.40,281.56 L183.38,280.94 L184.36,280.33 L185.35,279.72 L186.34,279.13 L187.34,278.54 L188.34,277.96 L189.34,277.40 L190.36,276.84 L191.37,276.29 L192.40,275.75 L193.42,275.23 L194.46,274.71 L195.50,274.21 L196.55,273.72 L197.60,273.24 L198.66,272.78 L199.73,272.32 L200.81,271.89 L201.89,271.46 L202.99,271.05 L204.09,270.66 L205.19,270.28 L206.31,269.92 L207.44,269.57 L208.57,269.24 L209.72,268.93 L210.87,268.63 L212.03,268.36 L213.21,268.10 L214.39,267.85 L215.58,267.63 L216.79,267.43" fill="none" stroke="#F8766D" stroke-width="1.05" stroke-linecap="butt" stroke-linejoin="round"/>
<path d="M55.12,476.09 L55.68,474.88 L56.24,473.68 L56.80,472.47 L57.37,471.26 L57.93,470.05 L58.49,468.84 L59.06,467.64 L59.63,466.43 L60.19,465.22 L60.76,464.01 L61.33,462.80 L61.90,461.60 L62.47,460.39 L63.04,459.18 L63.62,457.98 L64.19,456.77 L64.77,455.56 L65.34,454.36 L65.92,453.15 L66.50,451.95 L67.08,450.74 L67.66,449.54 L68.24,448.33 L68.82,447.13 L69.41,445.92 L69.99,444.72 L70.58,443.52 L71.17,442.31 L71.75,441.11 L72.34,439.91 L72.94,438.71 L73.53,437.51 L74.12,436.31 L74.72,435.11 L75.32,433.91 L75.91,432.71 L76.51,431.52 L77.11,430.32 L77.72,429.12 L78.32,427.93 L78.93,426.73 L79.53,425.54 L80.14,424.34 L80.75,423.15 L81.37,421.96 L81.98,420.77 L82.60,419.58 L83.21,418.39 L83.83,417.20 L84.45,416.01 L85.07,414.83 L85.70,413.64 L86.32,412.45 L86.95,411.27 L87.58,410.09 L88.21,408.90 L88.84,407.72 L89.48,406.54 L90.12,405.36 L90.75,404.19 L91.39,403.01 L92.04,401.83 L92.68,400.66 L93.33,399.48 L93.98,398.31 L94.63,397.14 L95.28,395.97 L95.93,394.80 L96.59,393.63 L97.25,392.47 L97.91,391.30 L98.57,390.14 L99.24,388.97 L99.91,387.81 L100.58,386.65 L101.25,385.49 L101.92,384.34 L102.60,383.18 L103.28,382.03 L103.97,380.88 L104.65,379.73 L105.34,378.58 L106.04,377.44 L106.73,376.30 L107.43,375.16 L108.14,374.02 L108.85,372.88 L109.56,371.75 L110.27,370.63 L111.00,369.50 L111.72,368.38 L112.45,367.26 L113.18,366.14 L113.92,365.03 L114.67,363.92 L115.41,362.82 L116.17,361.72 L116.93,360.62 L117.69,359.53 L118.46,358.44 L119.24,357.36 L120.02,356.28 L120.80,355.20 L121.59,354.13 L122.39,353.06 L123.19,352.00 L124.00,350.94 L124.81,349.88 L125.63,348.83 L126.46,347.78 L127.28,346.74 L128.12,345.70 L128.96,344.67 L129.80,343.64 L130.65,342.61 L131.51,341.59 L132.37,340.58 L133.24,339.56 L134.11,338.56 L134.99,337.55 L135.87,336.55 L136.76,335.56 L137.65,334.57 L138.55,333.58 L139.46,332.60 L140.37,331.62 L141.28,330.65 L142.20,329.68 L143.13,328.71 L144.05,327.75 L144.99,326.79 L145.93,325.84 L146.87,324.89 L147.82,323.95 L148.77,323.01 L149.73,322.07 L150.69,321.14 L151.66,320.21 L152.63,319.29 L153.61,318.37 L154.59,317.45 L155.57,316.54 L156.56,315.63 L157.55,314.72 L158.54,313.82 L159.54,312.92 L160.54,312.03 L161.55,311.14 L162.56,310.25 L163.57,309.37 L164.59,308.49 L165.61,307.62 L166.64,306.75 L167.67,305.88 L168.70,305.02 L169.74,304.17 L170.79,303.32 L171.83,302.48 L172.88,301.64 L173.94,300.81 L175.00,299.98 L176.06,299.16 L177.13,298.35 L178.20,297.54 L179.28,296.74 L180.36,295.95 L181.45,295.16 L182.54,294.38 L183.63,293.61 L184.73,292.84 L185.84,292.08 L186.95,291.33 L188.06,290.59 L189.18,289.86 L190.31,289.13 L191.43,288.41 L192.57,287.70 L193.71,287.00 L194.85,286.31 L196.00,285.63 L197.15,284.95 L198.31,284.29 L199.48,283.63 L200.65,282.98 L201.82,282.35 L203.00,281.72 L204.19,281.11 L205.38,280.50 L206.57,279.90 L207.77,279.32 L208.98,278.75 L210.19,278.18 L211.40,277.63 L212.62,277.10 L213.85,276.57 L215.08,276.05 L216.31,275.55 L217.55,275.06 L218.79,274.58 L220.04,274.12 L221.29,273.67 L222.54,273.23 L223.80,272.80 L225.07,272.39 L226.34,271.99 L227.61,271.61 L228.88,271.24 L230.16,270.89 L231.45,270.55 L232.74,270.22 L234.03,269.92 L235.32,269.62 L236.62,269.34 L237.93,269.08 L239.23,268.84 L240.54,268.61 L241.86,268.39 L243.17,268.20 L244.49,268.02 L245.82,267.85 L247.14,267.71 L248.47,267.58 L249.81,267.47 L251.14,267.38 L252.48,267.30 L253.83,267.25 L255.17,267.21 L256.52,267.19 L257.87,267.19 L259.22,267.21 L260.58,267.25 L261.94,267.31 L263.30,267.39 L264.67,267.49 L266.03,267.60 L267.40,267.74 L268.77,267.90 L270.15,268.08 L271.53,268.29" fill="none" stroke="#00BA38" stroke-width="1.05" stroke-linecap="butt" stroke-linejoin="round"/>
<path d="M55.49,476.26 L55.89,475.01 L56.30,473.76 L56.70,472.51 L57.11,471.25 L57.51,470.00 L57.92,468.74 L58.32,467.48 L58.72,466.22 L59.13,464.96 L59.53,463.71 L59.93,462.44 L60.34,461.18 L60.74,459.92 L61.15,458.66 L61.55,457.40 L61.96,456.14 L62.37,454.88 L62.78,453.62 L63.20,452.36 L63.61,451.10 L64.03,449.84 L64.45,448.58 L64.87,447.32 L65.29,446.06 L65.72,444.80 L66.15,443.55 L66.58,442.29 L67.02,441.04 L67.46,439.78 L67.91,438.53 L68.35,437.28 L68.80,436.03 L69.26,434.78 L69.72,433.54 L70.19,432.29 L70.66,431.05 L71.13,429.81 L71.61,428.57 L72.10,427.34 L72.59,426.10 L73.08,424.87 L73.58,423.64 L74.09,422.41 L74.60,421.19 L75.12,419.97 L75.64,418.75 L76.17,417.53 L76.70,416.32 L77.24,415.11 L77.79,413.90 L78.34,412.69 L78.90,411.49 L79.46,410.29 L80.03,409.10 L80.61,407.90 L81.19,406.71 L81.78,405.53 L82.38,404.35 L82.98,403.17 L83.59,401.99 L84.20,400.82 L84.82,399.66 L85.45,398.49 L86.09,397.34 L86.73,396.18 L87.38,395.03 L88.03,393.88 L88.70,392.74 L89.37,391.61 L90.05,390.47 L90.73,389.34 L91.42,388.22 L92.12,387.10 L92.83,385.99 L93.54,384.88 L94.26,383.77 L94.99,382.67 L95.73,381.58 L96.47,380.49 L97.22,379.40 L97.97,378.32 L98.73,377.24 L99.50,376.17 L100.28,375.10 L101.06,374.04 L101.85,372.98 L102.64,371.92 L103.44,370.87 L104.25,369.83 L105.07,368.79 L105.89,367.75 L106.71,366.72 L107.54,365.69 L108.38,364.67 L109.22,363.65 L110.07,362.64 L110.93,361.63 L111.79,360.63 L112.65,359.63 L113.53,358.63 L114.40,357.64 L115.28,356.65 L116.17,355.67 L117.07,354.69 L117.96,353.72 L118.87,352.75 L119.78,351.79 L120.69,350.83 L121.61,349.87 L122.53,348.92 L123.46,347.98 L124.39,347.03 L125.33,346.10 L126.27,345.16 L127.22,344.23 L128.17,343.31 L129.12,342.39 L130.08,341.47 L131.05,340.56 L132.02,339.65 L132.99,338.75 L133.96,337.85 L134.94,336.96 L135.93,336.07 L136.92,335.18 L137.91,334.30 L138.91,333.42 L139.91,332.55 L140.91,331.68 L141.92,330.82 L142.93,329.96 L143.95,329.11 L144.97,328.26 L146.00,327.42 L147.02,326.58 L148.06,325.74 L149.09,324.91 L150.13,324.09 L151.18,323.27 L152.22,322.45 L153.27,321.64 L154.33,320.84 L155.39,320.04 L156.45,319.24 L157.51,318.45 L158.58,317.67 L159.66,316.89 L160.73,316.12 L161.82,315.35 L162.90,314.58 L163.99,313.82 L165.08,313.07 L166.17,312.32 L167.27,311.58 L168.37,310.84 L169.48,310.11 L170.59,309.38 L171.70,308.66 L172.81,307.95 L173.93,307.24 L175.05,306.53 L176.18,305.83 L177.31,305.14 L178.44,304.45 L179.58,303.77 L180.71,303.09 L181.86,302.42 L183.00,301.76 L184.15,301.10 L185.30,300.44 L186.46,299.80 L187.61,299.16 L188.78,298.52 L189.94,297.89 L191.11,297.27 L192.28,296.65 L193.45,296.04 L194.63,295.43 L195.81,294.83 L196.99,294.24 L198.17,293.65 L199.36,293.07 L200.55,292.50 L201.75,291.93 L202.95,291.37 L204.15,290.81 L205.35,290.26 L206.55,289.72 L207.76,289.19 L208.97,288.66 L210.19,288.13 L211.40,287.62 L212.62,287.11 L213.85,286.60 L215.07,286.10 L216.30,285.61 L217.53,285.13 L218.76,284.65 L220.00,284.18 L221.24,283.72 L222.48,283.26 L223.72,282.81 L224.97,282.37 L226.22,281.93 L227.47,281.50 L228.72,281.08 L229.98,280.67 L231.24,280.26 L232.50,279.86 L233.76,279.46 L235.03,279.07 L236.29,278.69 L237.57,278.32 L238.84,277.95 L240.11,277.60 L241.39,277.25 L242.67,276.90 L243.95,276.56 L245.24,276.24 L246.52,275.91 L247.81,275.60 L249.10,275.29 L250.40,274.99 L251.69,274.70 L252.99,274.42 L254.29,274.14 L255.59,273.87 L256.89,273.61 L258.20,273.35 L259.51,273.11 L260.82,272.87 L262.13,272.64 L263.44,272.41 L264.76,272.20 L266.07,271.99 L267.39,271.79 L268.72,271.60 L270.04,271.41 L271.36,271.24" fill="none" stroke="#619CFF" stroke-width="1.05" stroke-linecap="butt" stroke-linejoin="round"/>
<rect x="45.00" y="255.50" width="237.00" height="244.00" fill="none" stroke="#a6a6a6" stroke-width="1"/>
<line x1="43.50" y1="488.50" x2="45.00" y2="488.50" stroke="#333" stroke-width="0.8"/>
<text x="42.20" y="491.00" font-size="6.80" text-anchor="end" font-weight="bold" fill="#4d4d4d">0.00</text>
<line x1="55.40" y1="499.50" x2="55.40" y2="501.00" stroke="#333" stroke-width="0.8"/>
<text x="55.40" y="507.00" font-size="6.80" text-anchor="middle" font-weight="bold" fill="#4d4d4d">0.00</text>
<line x1="43.50" y1="433.02" x2="45.00" y2="433.02" stroke="#333" stroke-width="0.8"/>
<text x="42.20" y="435.52" font-size="6.80" text-anchor="end" font-weight="bold" fill="#4d4d4d">0.25</text>
<line x1="109.40" y1="499.50" x2="109.40" y2="501.00" stroke="#333" stroke-width="0.8"/>
<text x="109.40" y="507.00" font-size="6.80" text-anchor="middle" font-weight="bold" fill="#4d4d4d">0.25</text>
<line x1="43.50" y1="377.55" x2="45.00" y2="377.55" stroke="#333" stroke-width="0.8"/>
<text x="42.20" y="380.05" font-size="6.80" text-anchor="end" font-weight="bold" fill="#4d4d4d">0.50</text>
<line x1="163.40" y1="499.50" x2="163.40" y2="501.00" stroke="#333" stroke-width="0.8"/>
<text x="163.40" y="507.00" font-size="6.80" text-anchor="middle" font-weight="bold" fill="#4d4d4d">0.50</text>
<line x1="43.50" y1="322.07" x2="45.00" y2="322.07" stroke="#333" stroke-width="0.8"/>
<text x="42.20" y="324.57" font-size="6.80" text-anchor="end" font-weight="bold" fill="#4d4d4d">0.75</text>
<line x1="217.40" y1="499.50" x2="217.40" y2="501.00" stroke="#333" stroke-width="0.8"/>
<text x="217.40" y="507.00" font-size="6.80" text-anchor="middle" font-weight="bold" fill="#4d4d4d">0.75</text>
<line x1="43.50" y1="266.60" x2="45.00" y2="266.60" stroke="#333" stroke-width="0.8"/>
<text x="42.20" y="269.10" font-size="6.80" text-anchor="end" font-weight="bold" fill="#4d4d4d">1.00</text>
<line x1="271.40" y1="499.50" x2="271.40" y2="501.00" stroke="#333" stroke-width="0.8"/>
<text x="271.40" y="507.00" font-size="6.80" text-anchor="middle" font-weight="bold" fill="#4d4d4d">1.00</text>
<text x="163.50" y="515.70" font-size="6.80" text-anchor="middle" font-weight="bold" fill="#000">1–Specificity</text>
<text transform="translate(26.50,377.50) rotate(-90)" font-size="6.8" font-weight="bold" text-anchor="middle" fill="#000">Sensitivity</text>
<line x1="159.80" y1="432.00" x2="166.40" y2="432.00" stroke="#F8766D" stroke-width="1.05"/>
<text x="168.80" y="434.10" font-size="6.00" text-anchor="start" font-weight="bold" fill="#111" stroke="#111" stroke-width="0.06">1 year AUC = 0.783 95%CI (0.688–0.878)</text>
<line x1="159.80" y1="439.65" x2="166.40" y2="439.65" stroke="#00BA38" stroke-width="1.05"/>
<text x="168.80" y="441.75" font-size="6.00" text-anchor="start" font-weight="bold" fill="#111" stroke="#111" stroke-width="0.06">2 year AUC = 0.711 95%CI (0.630–0.791)</text>
<line x1="159.80" y1="447.30" x2="166.40" y2="447.30" stroke="#619CFF" stroke-width="1.05"/>
<text x="168.80" y="449.40" font-size="6.00" text-anchor="start" font-weight="bold" fill="#111" stroke="#111" stroke-width="0.06">5 year AUC = 0.706 95%CI (0.628–0.785)</text>
<text x="361.60" y="250.00" font-size="15.20" text-anchor="start" font-weight="bold" fill="#000">d</text>
<defs><clipPath id="clip_d"><rect x="410.50" y="256.50" width="235.00" height="241.90"/></clipPath></defs>
<g clip-path="url(#clip_d)"><line x1="410.50" y1="498.40" x2="645.50" y2="256.50" stroke="#bebebe" stroke-width="1.0" stroke-dasharray="12.75 13.05" stroke-dashoffset="2.30"/></g>
<path d="M421.13,457.55 L421.45,456.51 L421.77,455.47 L422.10,454.42 L422.43,453.38 L422.76,452.33 L423.10,451.28 L423.44,450.24 L423.78,449.19 L424.13,448.14 L424.48,447.09 L424.83,446.04 L425.19,445.00 L425.56,443.95 L425.92,442.90 L426.29,441.85 L426.67,440.81 L427.05,439.76 L427.43,438.72 L427.82,437.67 L428.21,436.63 L428.61,435.58 L429.01,434.54 L429.42,433.50 L429.83,432.46 L430.24,431.43 L430.66,430.39 L431.09,429.35 L431.52,428.32 L431.95,427.29 L432.39,426.26 L432.84,425.23 L433.29,424.21 L433.75,423.19 L434.21,422.17 L434.67,421.15 L435.14,420.13 L435.62,419.12 L436.10,418.11 L436.59,417.10 L437.09,416.10 L437.59,415.10 L438.09,414.10 L438.60,413.11 L439.12,412.11 L439.64,411.13 L440.17,410.14 L440.71,409.16 L441.25,408.19 L441.79,407.21 L442.35,406.24 L442.91,405.28 L443.47,404.32 L444.05,403.36 L444.63,402.41 L445.21,401.46 L445.80,400.52 L446.40,399.58 L447.01,398.65 L447.62,397.72 L448.24,396.80 L448.87,395.88 L449.50,394.97 L450.14,394.06 L450.79,393.16 L451.45,392.26 L452.11,391.37 L452.78,390.48 L453.45,389.60 L454.14,388.73 L454.83,387.86 L455.53,387.00 L456.24,386.15 L456.95,385.30 L457.67,384.46 L458.40,383.62 L459.14,382.79 L459.89,381.97 L460.64,381.15 L461.40,380.35 L462.17,379.54 L462.95,378.75 L463.74,377.97 L464.53,377.19 L465.33,376.42 L466.15,375.66 L466.96,374.90 L467.79,374.16 L468.63,373.43 L469.47,372.70 L470.33,371.99 L471.19,371.28 L472.06,370.58 L472.94,369.90 L473.82,369.22 L474.72,368.56 L475.62,367.91 L476.54,367.26 L477.46,366.63 L478.39,366.01 L479.33,365.40 L480.28,364.81 L481.24,364.23 L482.20,363.65 L483.18,363.10 L484.16,362.55 L485.16,362.02 L486.16,361.51 L487.18,361.03 L488.21,360.58 L489.25,360.17 L490.30,359.81 L491.36,359.50 L492.45,359.24 L493.54,359.05 L494.65,358.93 L495.78,358.87 L496.91,358.85 L498.05,358.85 L499.19,358.87 L500.32,358.87 L501.44,358.84 L502.54,358.77 L503.63,358.65 L504.69,358.47 L505.75,358.25 L506.78,357.98 L507.80,357.66 L508.80,357.30 L509.79,356.90 L510.76,356.46 L511.71,355.98 L512.65,355.47 L513.58,354.92 L514.49,354.34 L515.38,353.72 L516.26,353.08 L517.13,352.42 L517.98,351.72 L518.82,351.00 L519.64,350.27 L520.46,349.51 L521.25,348.73 L522.04,347.94 L522.82,347.13 L523.58,346.31 L524.33,345.47 L525.06,344.63 L525.79,343.78 L526.51,342.93 L527.21,342.06 L527.91,341.19 L528.59,340.31 L529.27,339.43 L529.94,338.53 L530.60,337.64 L531.25,336.73 L531.89,335.82 L532.53,334.91 L533.16,333.99 L533.78,333.06 L534.40,332.14 L535.01,331.20 L535.62,330.27 L536.22,329.33 L536.82,328.39 L537.42,327.44 L538.01,326.49 L538.60,325.54 L539.19,324.59 L539.78,323.64 L540.37,322.69 L540.95,321.73 L541.53,320.78 L542.12,319.82 L542.70,318.87 L543.29,317.91 L543.87,316.96 L544.46,316.00 L545.05,315.05 L545.65,314.10 L546.24,313.15 L546.84,312.20 L547.45,311.26 L548.05,310.32 L548.67,309.38 L549.28,308.44 L549.91,307.51 L550.54,306.59 L551.17,305.66 L551.81,304.74 L552.45,303.83 L553.10,302.92 L553.76,302.01 L554.42,301.11 L555.09,300.21 L555.77,299.32 L556.45,298.43 L557.13,297.55 L557.83,296.68 L558.53,295.81 L559.23,294.94 L559.94,294.09 L560.66,293.23 L561.39,292.39 L562.12,291.55 L562.86,290.72 L563.60,289.89 L564.36,289.08 L565.12,288.27 L565.89,287.47 L566.66,286.67 L567.44,285.88 L568.23,285.10 L569.03,284.33 L569.83,283.57 L570.65,282.82 L571.47,282.07 L572.29,281.33 L573.13,280.61 L573.98,279.89 L574.83,279.18 L575.69,278.48 L576.56,277.79 L577.43,277.11 L578.32,276.44 L579.21,275.78 L580.12,275.13 L581.03,274.49 L581.95,273.86 L582.88,273.25 L583.82,272.64 L584.76,272.05 L585.72,271.46 L586.69,270.89 L587.66,270.33 L588.64,269.78 L589.64,269.25 L590.64,268.72 L591.66,268.21" fill="none" stroke="#F8766D" stroke-width="1.05" stroke-linecap="butt" stroke-linejoin="round"/>
<path d="M421.10,483.21 L421.83,482.14 L422.55,481.07 L423.28,480.00 L424.00,478.92 L424.71,477.85 L425.43,476.77 L426.14,475.69 L426.84,474.62 L427.55,473.53 L428.25,472.45 L428.95,471.37 L429.65,470.28 L430.35,469.20 L431.04,468.11 L431.73,467.02 L432.42,465.93 L433.10,464.84 L433.79,463.74 L434.47,462.65 L435.15,461.55 L435.83,460.46 L436.50,459.36 L437.18,458.26 L437.85,457.16 L438.52,456.06 L439.19,454.96 L439.86,453.86 L440.53,452.75 L441.19,451.65 L441.86,450.54 L442.52,449.44 L443.18,448.33 L443.84,447.22 L444.50,446.12 L445.16,445.01 L445.81,443.90 L446.47,442.79 L447.12,441.68 L447.78,440.57 L448.43,439.46 L449.08,438.35 L449.74,437.23 L450.39,436.12 L451.04,435.01 L451.69,433.90 L452.34,432.78 L452.99,431.67 L453.64,430.55 L454.29,429.44 L454.94,428.33 L455.59,427.21 L456.24,426.10 L456.89,424.98 L457.54,423.87 L458.19,422.75 L458.84,421.64 L459.49,420.53 L460.14,419.41 L460.79,418.30 L461.45,417.18 L462.10,416.07 L462.75,414.96 L463.41,413.84 L464.06,412.73 L464.72,411.62 L465.37,410.50 L466.03,409.39 L466.69,408.28 L467.35,407.17 L468.01,406.06 L468.67,404.95 L469.34,403.84 L470.00,402.73 L470.67,401.62 L471.33,400.52 L472.00,399.41 L472.67,398.30 L473.35,397.20 L474.02,396.09 L474.70,394.99 L475.37,393.89 L476.05,392.79 L476.74,391.68 L477.42,390.59 L478.11,389.49 L478.80,388.39 L479.49,387.30 L480.19,386.21 L480.89,385.12 L481.59,384.04 L482.30,382.95 L483.01,381.87 L483.72,380.80 L484.44,379.72 L485.16,378.65 L485.89,377.59 L486.62,376.52 L487.36,375.47 L488.10,374.41 L488.85,373.36 L489.61,372.32 L490.37,371.28 L491.13,370.24 L491.90,369.21 L492.68,368.19 L493.46,367.17 L494.25,366.16 L495.05,365.15 L495.85,364.15 L496.66,363.16 L497.48,362.17 L498.31,361.19 L499.14,360.22 L499.98,359.25 L500.83,358.29 L501.69,357.34 L502.55,356.40 L503.42,355.46 L504.30,354.53 L505.19,353.61 L506.09,352.69 L506.99,351.78 L507.90,350.88 L508.82,349.99 L509.74,349.10 L510.67,348.22 L511.61,347.35 L512.56,346.48 L513.51,345.63 L514.47,344.77 L515.43,343.93 L516.40,343.09 L517.38,342.26 L518.36,341.44 L519.35,340.62 L520.34,339.81 L521.34,339.00 L522.35,338.20 L523.36,337.41 L524.38,336.63 L525.40,335.85 L526.43,335.08 L527.46,334.31 L528.49,333.55 L529.53,332.79 L530.58,332.04 L531.63,331.30 L532.68,330.56 L533.74,329.82 L534.80,329.09 L535.87,328.36 L536.94,327.64 L538.01,326.92 L539.09,326.21 L540.16,325.50 L541.25,324.79 L542.33,324.09 L543.42,323.39 L544.51,322.70 L545.60,322.00 L546.69,321.31 L547.79,320.62 L548.89,319.94 L549.99,319.26 L551.09,318.58 L552.20,317.90 L553.30,317.22 L554.41,316.55 L555.52,315.87 L556.63,315.20 L557.74,314.53 L558.85,313.86 L559.96,313.19 L561.07,312.53 L562.18,311.86 L563.29,311.19 L564.40,310.52 L565.51,309.86 L566.62,309.19 L567.73,308.52 L568.84,307.86 L569.95,307.19 L571.06,306.52 L572.17,305.85 L573.28,305.18 L574.38,304.51 L575.48,303.83 L576.59,303.16 L577.69,302.48 L578.78,301.80 L579.88,301.12 L580.97,300.44 L582.07,299.76 L583.16,299.07 L584.25,298.38 L585.33,297.69 L586.42,297.00 L587.50,296.31 L588.59,295.61 L589.67,294.92 L590.75,294.22 L591.83,293.52 L592.91,292.83 L593.99,292.13 L595.06,291.43 L596.14,290.73 L597.22,290.03 L598.29,289.33 L599.37,288.62 L600.44,287.92 L601.52,287.22 L602.60,286.52 L603.67,285.82 L604.75,285.11 L605.82,284.41 L606.90,283.71 L607.98,283.01 L609.06,282.31 L610.14,281.61 L611.22,280.92 L612.30,280.22 L613.38,279.52 L614.46,278.83 L615.55,278.13 L616.63,277.44 L617.72,276.75 L618.81,276.06 L619.90,275.37 L620.99,274.68 L622.08,274.00 L623.18,273.31 L624.28,272.63 L625.38,271.95 L626.48,271.28 L627.58,270.60 L628.69,269.93 L629.80,269.26 L630.91,268.59 L632.03,267.93" fill="none" stroke="#00BA38" stroke-width="1.05" stroke-linecap="butt" stroke-linejoin="round"/>
<path d="M421.52,478.51 L422.14,477.42 L422.76,476.33 L423.39,475.25 L424.03,474.17 L424.66,473.10 L425.31,472.03 L425.96,470.96 L426.61,469.90 L427.26,468.84 L427.92,467.78 L428.59,466.73 L429.25,465.68 L429.92,464.64 L430.60,463.60 L431.27,462.56 L431.95,461.52 L432.63,460.48 L433.32,459.45 L434.00,458.42 L434.69,457.39 L435.38,456.36 L436.07,455.33 L436.76,454.31 L437.45,453.28 L438.15,452.26 L438.84,451.24 L439.54,450.21 L440.23,449.19 L440.93,448.17 L441.62,447.15 L442.31,446.12 L443.01,445.10 L443.70,444.07 L444.39,443.05 L445.08,442.02 L445.77,440.99 L446.46,439.97 L447.14,438.93 L447.83,437.90 L448.51,436.87 L449.19,435.83 L449.86,434.79 L450.54,433.75 L451.21,432.71 L451.87,431.66 L452.54,430.61 L453.20,429.55 L453.85,428.50 L454.51,427.44 L455.16,426.37 L455.80,425.31 L456.45,424.24 L457.09,423.17 L457.73,422.10 L458.37,421.03 L459.01,419.96 L459.65,418.88 L460.28,417.81 L460.92,416.73 L461.56,415.65 L462.19,414.58 L462.83,413.50 L463.47,412.43 L464.10,411.35 L464.74,410.28 L465.38,409.21 L466.03,408.13 L466.67,407.07 L467.32,406.00 L467.97,404.93 L468.62,403.87 L469.28,402.81 L469.94,401.75 L470.60,400.70 L471.27,399.65 L471.95,398.60 L472.62,397.56 L473.31,396.52 L473.99,395.48 L474.69,394.45 L475.39,393.43 L476.09,392.41 L476.80,391.40 L477.52,390.39 L478.25,389.38 L478.98,388.39 L479.72,387.40 L480.47,386.41 L481.23,385.43 L481.99,384.46 L482.76,383.50 L483.54,382.54 L484.32,381.58 L485.11,380.63 L485.90,379.69 L486.71,378.75 L487.51,377.81 L488.33,376.88 L489.14,375.95 L489.97,375.03 L490.80,374.12 L491.63,373.20 L492.47,372.29 L493.31,371.39 L494.16,370.48 L495.01,369.59 L495.86,368.69 L496.72,367.80 L497.58,366.91 L498.44,366.02 L499.31,365.13 L500.18,364.25 L501.05,363.37 L501.93,362.49 L502.81,361.61 L503.69,360.74 L504.57,359.86 L505.45,358.99 L506.33,358.12 L507.22,357.25 L508.10,356.38 L508.99,355.51 L509.88,354.64 L510.77,353.78 L511.66,352.91 L512.55,352.04 L513.43,351.17 L514.32,350.30 L515.21,349.43 L516.10,348.56 L516.98,347.69 L517.87,346.82 L518.75,345.95 L519.63,345.07 L520.51,344.20 L521.39,343.32 L522.26,342.44 L523.14,341.56 L524.01,340.67 L524.87,339.79 L525.74,338.90 L526.60,338.01 L527.46,337.11 L528.32,336.22 L529.17,335.32 L530.02,334.41 L530.86,333.51 L531.70,332.60 L532.54,331.69 L533.38,330.78 L534.22,329.87 L535.05,328.95 L535.88,328.04 L536.71,327.12 L537.54,326.20 L538.37,325.28 L539.19,324.36 L540.02,323.44 L540.84,322.51 L541.67,321.59 L542.49,320.67 L543.31,319.75 L544.13,318.83 L544.96,317.90 L545.78,316.98 L546.60,316.06 L547.43,315.14 L548.25,314.22 L549.08,313.31 L549.90,312.39 L550.73,311.48 L551.56,310.57 L552.40,309.66 L553.24,308.76 L554.09,307.86 L554.95,306.97 L555.81,306.09 L556.69,305.22 L557.57,304.35 L558.46,303.49 L559.36,302.63 L560.27,301.78 L561.18,300.93 L562.09,300.09 L563.01,299.25 L563.93,298.41 L564.86,297.59 L565.80,296.77 L566.74,295.97 L567.70,295.18 L568.66,294.40 L569.63,293.64 L570.62,292.90 L571.62,292.18 L572.63,291.48 L573.65,290.80 L574.68,290.12 L575.71,289.47 L576.76,288.83 L577.82,288.20 L578.88,287.58 L579.95,286.97 L581.02,286.37 L582.11,285.78 L583.19,285.20 L584.29,284.63 L585.38,284.06 L586.49,283.50 L587.59,282.94 L588.70,282.39 L589.81,281.83 L590.92,281.28 L592.03,280.73 L593.15,280.18 L594.26,279.63 L595.38,279.07 L596.50,278.52 L597.62,277.97 L598.73,277.42 L599.86,276.88 L600.98,276.34 L602.10,275.80 L603.23,275.27 L604.36,274.74 L605.49,274.22 L606.62,273.71 L607.75,273.20 L608.89,272.71 L610.03,272.22 L611.18,271.74 L612.32,271.28 L613.47,270.83 L614.63,270.39 L615.79,269.96 L616.95,269.55 L618.11,269.15 L619.28,268.76 L620.46,268.40 L621.63,268.05" fill="none" stroke="#619CFF" stroke-width="1.05" stroke-linecap="butt" stroke-linejoin="round"/>
<rect x="410.50" y="256.50" width="235.00" height="241.90" fill="none" stroke="#a6a6a6" stroke-width="1"/>
<line x1="409.00" y1="487.20" x2="410.50" y2="487.20" stroke="#333" stroke-width="0.8"/>
<text x="407.70" y="489.70" font-size="6.80" text-anchor="end" font-weight="bold" fill="#4d4d4d">0.00</text>
<line x1="421.30" y1="498.40" x2="421.30" y2="499.90" stroke="#333" stroke-width="0.8"/>
<text x="421.30" y="505.90" font-size="6.80" text-anchor="middle" font-weight="bold" fill="#4d4d4d">0.00</text>
<line x1="409.00" y1="432.22" x2="410.50" y2="432.22" stroke="#333" stroke-width="0.8"/>
<text x="407.70" y="434.72" font-size="6.80" text-anchor="end" font-weight="bold" fill="#4d4d4d">0.25</text>
<line x1="474.80" y1="498.40" x2="474.80" y2="499.90" stroke="#333" stroke-width="0.8"/>
<text x="474.80" y="505.90" font-size="6.80" text-anchor="middle" font-weight="bold" fill="#4d4d4d">0.25</text>
<line x1="409.00" y1="377.25" x2="410.50" y2="377.25" stroke="#333" stroke-width="0.8"/>
<text x="407.70" y="379.75" font-size="6.80" text-anchor="end" font-weight="bold" fill="#4d4d4d">0.50</text>
<line x1="528.30" y1="498.40" x2="528.30" y2="499.90" stroke="#333" stroke-width="0.8"/>
<text x="528.30" y="505.90" font-size="6.80" text-anchor="middle" font-weight="bold" fill="#4d4d4d">0.50</text>
<line x1="409.00" y1="322.27" x2="410.50" y2="322.27" stroke="#333" stroke-width="0.8"/>
<text x="407.70" y="324.77" font-size="6.80" text-anchor="end" font-weight="bold" fill="#4d4d4d">0.75</text>
<line x1="581.80" y1="498.40" x2="581.80" y2="499.90" stroke="#333" stroke-width="0.8"/>
<text x="581.80" y="505.90" font-size="6.80" text-anchor="middle" font-weight="bold" fill="#4d4d4d">0.75</text>
<line x1="409.00" y1="267.30" x2="410.50" y2="267.30" stroke="#333" stroke-width="0.8"/>
<text x="407.70" y="269.80" font-size="6.80" text-anchor="end" font-weight="bold" fill="#4d4d4d">1.00</text>
<line x1="635.30" y1="498.40" x2="635.30" y2="499.90" stroke="#333" stroke-width="0.8"/>
<text x="635.30" y="505.90" font-size="6.80" text-anchor="middle" font-weight="bold" fill="#4d4d4d">1.00</text>
<text x="528.00" y="514.60" font-size="6.80" text-anchor="middle" font-weight="bold" fill="#000">1–Specificity</text>
<text transform="translate(392.00,377.45) rotate(-90)" font-size="6.8" font-weight="bold" text-anchor="middle" fill="#000">Sensitivity</text>
<line x1="524.20" y1="431.30" x2="530.80" y2="431.30" stroke="#F8766D" stroke-width="1.05"/>
<text x="533.20" y="433.40" font-size="6.00" text-anchor="start" font-weight="bold" fill="#111" stroke="#111" stroke-width="0.06">1 year AUC = 0.707 95%CI (0.477–0.938)</text>
<line x1="524.20" y1="438.95" x2="530.80" y2="438.95" stroke="#00BA38" stroke-width="1.05"/>
<text x="533.20" y="441.05" font-size="6.00" text-anchor="start" font-weight="bold" fill="#111" stroke="#111" stroke-width="0.06">2 year AUC = 0.629 95%CI (0.471–0.786)</text>
<line x1="524.20" y1="446.60" x2="530.80" y2="446.60" stroke="#619CFF" stroke-width="1.05"/>
<text x="533.20" y="448.70" font-size="6.00" text-anchor="start" font-weight="bold" fill="#111" stroke="#111" stroke-width="0.06">5 year AUC = 0.641 95%CI (0.513–0.768)</text>
</svg>
</body></html>
